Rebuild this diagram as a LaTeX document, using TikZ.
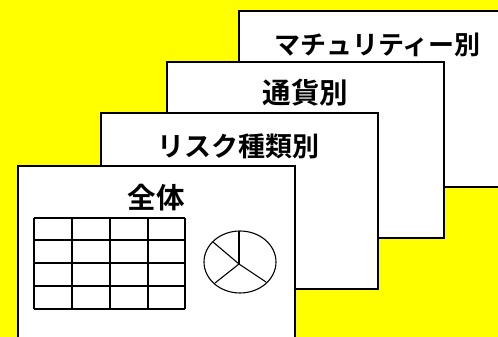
\documentclass[tikz,border=0pt]{standalone}
\usepackage{fontspec}
\newfontfamily\jp{Noto Sans CJK JP Bold}
\begin{document}
\begin{tikzpicture}[x=1pt,y=-1pt,
  card/.style={draw=black, line width=1.6pt, fill=white, anchor=north west,
    minimum width=277pt, minimum height=176pt, inner sep=0pt},
  title/.style={font=\jp\fontsize{#1}{#1}\selectfont, inner sep=0pt},
  title/.default=27,
  grid/.style={draw=black, line width=1.1pt}]
\definecolor{bgy}{RGB}{255,255,0}
\useasboundingbox (0,0) rectangle (498,337);
\clip (0,0) rectangle (498,337);
\fill[bgy] (0,0) rectangle (498,337);
\node[card] (r4) at (238,10) {};
\node[title=26] (t4) at ([yshift=-35pt]r4.north) {マチュリティー別};
\node[card] (r3) at (166,61) {};
\node[title=28.5] (t3) at ([yshift=-32pt]r3.north) {通貨別};
\node[card] (r2) at (100,112) {};
\node[title=27] (t2) at ([xshift=-1pt,yshift=-34pt]r2.north) {リスク種類別};
\node[card] (r1) at (17,165) {};
\node[title=28.5] (t1) at ([yshift=-33pt]r1.north) {全体};
% table
\foreach \x in {34,72,110,148,185} \draw[grid] (\x,218) -- (\x,309);
\foreach \y in {218,240,263,286,309} \draw[grid] (34,\y) -- (185,\y);
% pie
\draw[grid] (240,262) ellipse [x radius=36, y radius=31];
\coordinate (pc) at (239,264);
\draw[grid] (pc) -- (239,231);
\draw[grid] (pc) -- (213,242);
\draw[grid] (pc) -- (215,283);
\draw[grid] (pc) -- (266,282);
\end{tikzpicture}
\end{document}
